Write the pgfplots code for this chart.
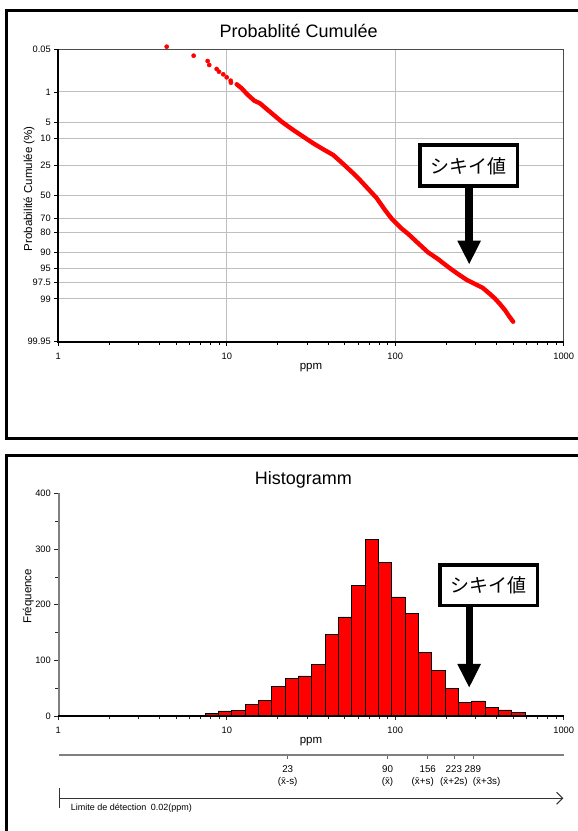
\documentclass[border=0pt]{standalone}
\usepackage{pgfplots}
\pgfplotsset{compat=1.18}
\usepackage{pgfplotstable}
\usepackage{fontspec}
\setmainfont{Liberation Sans}
\newfontfamily\cjk{Noto Sans CJK JP}
\usetikzlibrary{arrows.meta}

% histogram: bin edges (ratio 1.2) and counts
\pgfplotstableread{
x y
4.2998 1
5.1598 0
6.1917 1
7.4301 5
8.9161 9
10.6993 10
12.8392 21
15.4070 28
18.4884 53
22.1861 68
26.6233 72
31.9480 93
38.3376 147
46.0051 178
55.2061 235
66.2474 318
79.4968 276
95.3962 214
114.475 185
137.371 115
164.845 82
197.814 50
237.376 24
284.852 27
341.822 16
410.186 11
492.224 6
590.668 0
}\histdata

% cumulative probability (normal score z), sparse low values
\pgfplotstableread{
x z
4.40 -3.342
6.36 -3.140
7.70 -3.020
7.87 -2.931
8.71 -2.841
8.99 -2.780
9.53 -2.721
9.99 -2.654
10.55 -2.578
10.59 -2.533
}\probsparse

\pgfplotstableread{
x z
11.45 -2.497
12.26 -2.407
13.23 -2.272
14.57 -2.128
15.74 -2.069
17.25 -1.941
19.32 -1.784
21.18 -1.656
24.81 -1.469
28.45 -1.319
32.62 -1.170
37.38 -1.035
42.86 -0.907
49.14 -0.705
56.33 -0.496
61.74 -0.345
69.16 -0.143
77.56 0.060
86.90 0.329
95.59 0.532
108.1 0.734
119.5 0.869
136.4 1.072
156.4 1.280
179.2 1.431
206.3 1.611
235.6 1.768
266.4 1.903
297.2 1.993
331.5 2.083
364.8 2.218
390.6 2.319
418.2 2.443
447.7 2.578
472.9 2.713
501.5 2.841
}\probdense

\begin{document}
\begin{tikzpicture}
\path[use as bounding box] (0,0) rectangle (578pt,831pt);
\clip (0,0) rectangle (578pt,831pt);

% ---------- top: probability plot ----------
\begin{axis}[
  at={(58.3pt,489.3pt)}, anchor=south west,
  scale only axis, width=505.4pt, height=292.7pt,
  xmode=log, xmin=1, xmax=1000,
  ymin=-3.2905, ymax=3.2905, y dir=reverse,
  xtick={1,10,100,1000}, xticklabels={1,10,100,1000},
  minor xtick={2,3,4,5,6,7,8,9,20,30,40,50,60,70,80,90,200,300,400,500,600,700,800,900},
  ytick={-3.2905,-2.3263,-1.6449,-1.2816,-0.6745,0,0.5244,0.8416,1.2816,1.6449,1.9600,2.3263,3.2905},
  yticklabels={0.05,1,5,10,25,50,70,80,90,95,97.5,99,99.95},
  xmajorgrids, ymajorgrids,
  grid style={draw=black!25, line width=0.9pt},
  axis line style={draw=none},
  tick pos=left, tick align=outside,
  major tick length=4pt, minor tick length=3pt,
  tick style={black, line width=0.7pt},
  tick label style={font=\fontsize{9.3}{10}\selectfont},
  xticklabel style={yshift=-3.5pt},
  clip=false,
]
\addplot[only marks, mark=*, mark size=2.1pt, mark options={draw=red, fill=red}] table[x=x, y=z] {\probsparse};
\addplot[red, line width=4.4pt, line cap=round, line join=round] table[x=x, y=z] {\probdense};
\end{axis}

% ---------- bottom: histogram ----------
\begin{axis}[
  at={(58.3pt,115pt)}, anchor=south west,
  scale only axis, width=505.4pt, height=222.5pt,
  xmode=log, xmin=1, xmax=1000,
  ymin=0, ymax=400,
  xtick={1,10,100,1000}, xticklabels={1,10,100,1000},
  minor xtick={2,3,4,5,6,7,8,9,20,30,40,50,60,70,80,90,200,300,400,500,600,700,800,900},
  ytick={0,100,200,300,400}, yticklabels={0,100,200,300,400},
  minor ytick={50,150,250,350},
  axis line style={draw=none},
  tick pos=left, tick align=outside,
  major tick length=4pt, minor tick length=3pt,
  tick style={black!85, line width=0.7pt},
  tick label style={font=\fontsize{9.3}{10}\selectfont},
  xticklabel style={yshift=-3.5pt},
]
\addplot[ybar interval, fill=red, draw=black, line width=0.7pt] table[x=x, y=y] {\histdata};
\end{axis}

% ---------- statistics scale ----------
\begin{axis}[
  at={(58.3pt,76pt)}, anchor=south west,
  scale only axis, width=505.4pt, height=5pt,
  xmode=log, xmin=1, xmax=1000, ymin=0, ymax=1,
  ytick=\empty,
  xtick={23,90,156,223,289},
  xticklabels={{23\\(\=x-s)},{90\\(\=x)},{156\\\llap{(\=x+s)\hspace*{-6pt}}},{223\\(\=x+2s)},{289\\\rlap{(\=x+3s)}}},
  minor xtick={},
  axis line style={draw=none},
  tick pos=left, tick align=outside,
  major tick length=4pt,
  tick style={black!60, line width=0.7pt},
  xticklabel style={align=center, font=\fontsize{9.8}{12.4}\selectfont, yshift=-3pt},
]
\end{axis}

\begin{scope}[x=1pt, y=-1pt, shift={(0pt,831pt)}]
  % panel frames
  \draw[line width=2.6pt] (600,438.5) -- (6.7,438.5) -- (6.7,10.7) -- (600,10.7);
  \draw[line width=2.6pt] (6.7,860) -- (6.7,455.7) -- (600,455.7);
  % top axes frame
  \draw[black!70, line width=0.8pt] (58.3,49) -- (563.7,49) -- (563.7,341.7);
  \draw[black, line width=1.8pt] (58.3,49) -- (58.3,341.7) -- (563.7,341.7);
  % bottom axes lines
  \draw[black!50, line width=1.6pt] (58.7,493.5) -- (58.7,716);
  \draw[black, line width=1.5pt] (58.3,716) -- (563.7,716);
  % stats scale line
  \draw[black!50, line width=1.3pt] (59.3,755) -- (563.7,755);
  % titles and labels
  \node[anchor=base, font=\fontsize{18}{20}\selectfont] at (298.7,37.7) {Probablité Cumulée};
  \node[anchor=base, font=\fontsize{18}{20}\selectfont] at (303.3,485) {Histogramm};
  \node[rotate=90, font=\fontsize{11.5}{13}\selectfont] at (29.2,188.8) {Probabilité Cumulée (\%)};
  \node[rotate=90, font=\fontsize{11.5}{13}\selectfont] at (28.3,596.5) {Fréquence};
  \node[font=\fontsize{11.5}{12}\selectfont] at (311,367.9) {ppm};
  \node[font=\fontsize{11.5}{12}\selectfont] at (311,741.3) {ppm};
  % detection limit arrow
  \draw[black!80, line width=1pt] (59.3,788.3) -- (59.3,808.3);
  \draw[black!80, line width=1pt, -{Straight Barb[length=6pt,width=12pt]}] (59.3,798.3) -- (563.3,798.3);
  \node[anchor=base west, inner sep=0pt, font=\fontsize{9}{10}\selectfont] at (70.7,810.7) {Limite de détection\enspace 0.02(ppm)};
  % threshold markers
  \draw[line width=3.3pt, fill=white] (420,145) rectangle (517.6,186);
  \node[font=\cjk\fontsize{19}{20}\selectfont] at (468.8,166) {シキイ値};
  \fill (465,186) rectangle (473.3,241.2);
  \fill (457.3,240.7) -- (481,240.7) -- (469.2,264) -- cycle;
  \draw[line width=3.3pt, fill=white] (440,565) rectangle (537.6,605.6);
  \node[font=\cjk\fontsize{19}{20}\selectfont] at (488.8,585.3) {シキイ値};
  \fill (465.7,605.6) rectangle (472.7,664.5);
  \fill (457.3,664) -- (481,664) -- (469.2,687.3) -- cycle;
\end{scope}
\end{tikzpicture}
\end{document}
